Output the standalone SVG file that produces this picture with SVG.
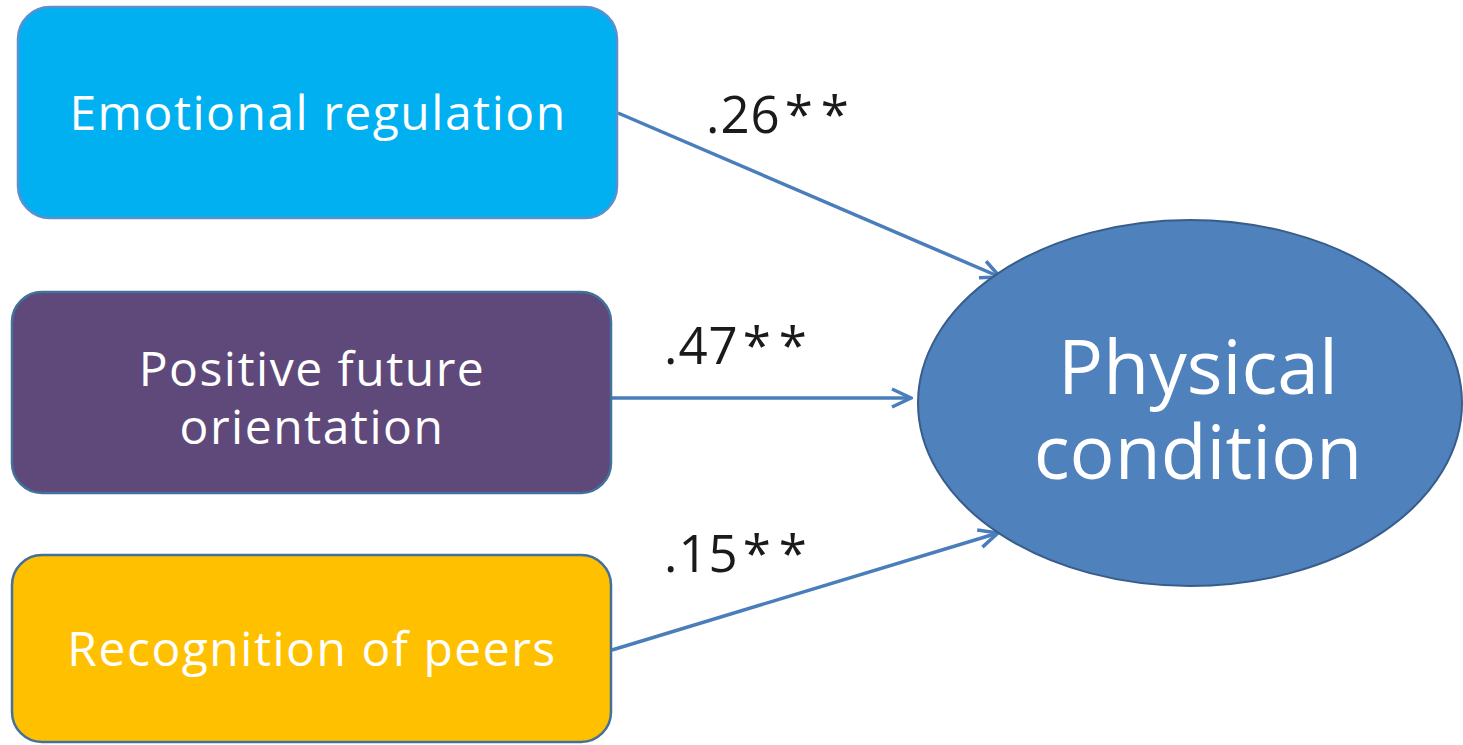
<svg xmlns="http://www.w3.org/2000/svg" width="1463" height="745" viewBox="0 0 1463 745">
<style>
.box{stroke-width:2.5}
.lbl{font-family:"Open Sans","Liberation Sans",sans-serif;fill:#ffffff;text-anchor:middle}
.sm{font-size:48px;letter-spacing:1.5px}
.big{font-size:75px}
.coef{font-family:"Open Sans","Liberation Sans",sans-serif;fill:#1a1a1a;font-size:51px;letter-spacing:1px}
.ast{letter-spacing:8px}
.conn{stroke:#4a7ebb;stroke-width:3.5;fill:none;marker-end:url(#arr)}
</style>
<defs>
<marker id="arr" viewBox="0 0 24 24" refX="22" refY="12" markerWidth="24" markerHeight="24" orient="auto" markerUnits="userSpaceOnUse">
<path d="M3,3 L22,12 L3,21" fill="none" stroke="#4a7ebb" stroke-width="3.5" stroke-linejoin="miter"/>
</marker>
</defs>
<rect width="1463" height="745" fill="#ffffff"/>
<g id="connectors">
<line class="conn" x1="618" y1="113" x2="1000" y2="277"/>
<line class="conn" x1="612" y1="398" x2="911" y2="398"/>
<line class="conn" x1="612" y1="650" x2="998" y2="533"/>
<text class="coef" x="706" y="133">.26<tspan class="ast" dx="4">**</tspan></text>
<text class="coef" x="664" y="364">.47<tspan class="ast" dx="4">**</tspan></text>
<text class="coef" x="664" y="572">.15<tspan class="ast" dx="4">**</tspan></text>
</g>
<g id="emotional">
<rect class="box" x="18" y="7" width="599" height="211" rx="32" fill="#00b0f0" stroke="#5b8fd0"/>
<text class="lbl sm" x="318" y="130">Emotional regulation</text>
</g>
<g id="positive">
<rect class="box" x="12" y="292" width="599" height="201" rx="30" fill="#5f497a" stroke="#41719c"/>
<text class="lbl sm" x="312" y="386"><tspan x="312" y="386">Positive future</tspan><tspan x="312" y="444">orientation</tspan></text>
</g>
<g id="recognition">
<rect class="box" x="12" y="555" width="599" height="187" rx="30" fill="#ffc000" stroke="#41719c"/>
<text class="lbl sm" x="312" y="666">Recognition of peers</text>
</g>
<g id="physical">
<ellipse cx="1190" cy="403" rx="272" ry="183" fill="#4f81bd" stroke="#385d8a" stroke-width="2"/>
<text class="lbl big" x="1198" y="394"><tspan x="1198" y="394">Physical</tspan><tspan x="1198" y="479">condition</tspan></text>
</g>
</svg>
